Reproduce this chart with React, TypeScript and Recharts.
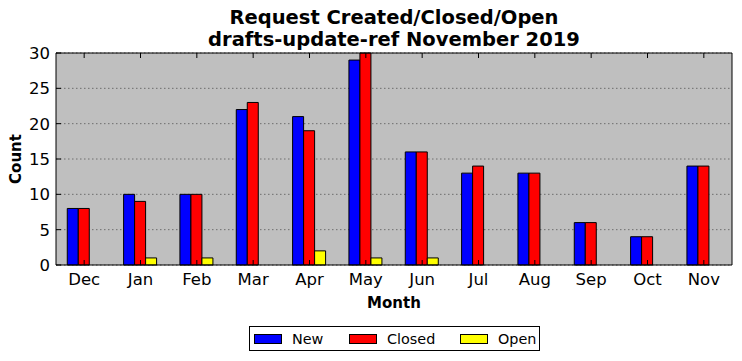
import { FC } from "react";
import { BarChart, Bar, CartesianGrid, XAxis, YAxis } from "recharts";

const months = ["Dec", "Jan", "Feb", "Mar", "Apr", "May", "Jun", "Jul", "Aug", "Sep", "Oct", "Nov"];
const newCounts = [8, 10, 10, 22, 21, 29, 16, 13, 13, 6, 4, 14];
const closedCounts = [8, 9, 10, 23, 19, 30, 16, 14, 13, 6, 4, 14];
const openCounts = [0, 1, 1, 0, 2, 1, 1, 0, 0, 0, 0, 0];
const yTicks = [0, 5, 10, 15, 20, 25, 30];

const data = months.map((m, i) => ({
  month: m,
  New: newCounts[i],
  Closed: closedCounts[i],
  Open: openCounts[i],
}));

const font = "'DejaVu Sans', sans-serif";

// legend entries, x offset of each swatch inside the box
const legendItems = [
  { name: "New", color: "#0000ff", left: 4 },
  { name: "Closed", color: "#ff0000", left: 99 },
  { name: "Open", color: "#ffff00", left: 210 },
];

const App: FC = () => {
  return (
    <div style={{ position: "absolute", left: 0, top: 0, width: 742, height: 361, fontFamily: font }}>
      <BarChart
        width={742}
        height={361}
        data={data}
        margin={{ top: 52, right: 9, left: 0, bottom: 66 }}
        barCategoryGap="20%"
        barGap={0}
      >
        <CartesianGrid
          xAxisId="bottom"
          yAxisId="left"
          fill="#bfbfbf"
          vertical={false}
          stroke="#6e6e6e"
          strokeDasharray="1.5 2.5"
        />
        <XAxis
          xAxisId="bottom"
          dataKey="month"
          height={30}
          stroke="#000"
          tickSize={-5}
          tickMargin={13}
          tick={{ fill: "#000", fontSize: 16.5, fontFamily: font }}
          tickLine={{ stroke: "#000" }}
        />
        <XAxis
          xAxisId="top"
          orientation="top"
          dataKey="month"
          height={1}
          stroke="#000"
          tickSize={-5}
          tickFormatter={() => ""}
          tickLine={{ stroke: "#000" }}
        />
        <YAxis
          yAxisId="left"
          width={56}
          domain={[0, 30]}
          ticks={yTicks}
          stroke="#000"
          tickSize={-5}
          tickMargin={11}
          tick={{ fill: "#000", fontSize: 16.5, fontFamily: font }}
          tickLine={{ stroke: "#000" }}
        />
        <YAxis
          yAxisId="right"
          orientation="right"
          width={1}
          domain={[0, 30]}
          ticks={yTicks}
          stroke="#000"
          tickSize={-5}
          tickFormatter={() => ""}
          tickLine={{ stroke: "#000" }}
        />
        <Bar xAxisId="bottom" yAxisId="left" dataKey="New" fill="#0000ff" stroke="#000" strokeWidth={1} isAnimationActive={false} />
        <Bar xAxisId="bottom" yAxisId="left" dataKey="Closed" fill="#ff0000" stroke="#000" strokeWidth={1} isAnimationActive={false} />
        <Bar xAxisId="bottom" yAxisId="left" dataKey="Open" fill="#ffff00" stroke="#000" strokeWidth={1} isAnimationActive={false} />
      </BarChart>

      <div style={{ position: "absolute", left: 56, width: 676, top: 7, textAlign: "center", fontWeight: "bold", fontSize: 19.5, lineHeight: "22px" }}>
        <div>Request Created/Closed/Open</div>
        <div>drafts-update-ref November 2019</div>
      </div>

      <div style={{ position: "absolute", left: 56, width: 676, top: 294, textAlign: "center", fontWeight: "bold", fontSize: 15 }}>
        Month
      </div>

      <div
        style={{
          position: "absolute",
          left: 16,
          top: 159,
          transform: "translate(-50%, -50%) rotate(-90deg)",
          fontWeight: "bold",
          fontSize: 15,
          whiteSpace: "nowrap",
        }}
      >
        Count
      </div>

      <div
        style={{
          position: "absolute",
          left: 249,
          top: 326,
          width: 289,
          height: 23,
          border: "1px solid #000",
          background: "#fff",
          fontSize: 14.4,
        }}
      >
        {legendItems.map((item) => (
          <div
            key={item.name}
            style={{ position: "absolute", left: item.left, top: 0, height: 23, display: "flex", alignItems: "center" }}
          >
            <div style={{ width: 26, height: 8, background: item.color, border: "1px solid #000", marginRight: 10 }} />
            <span>{item.name}</span>
          </div>
        ))}
      </div>
    </div>
  );
};

export default App;
